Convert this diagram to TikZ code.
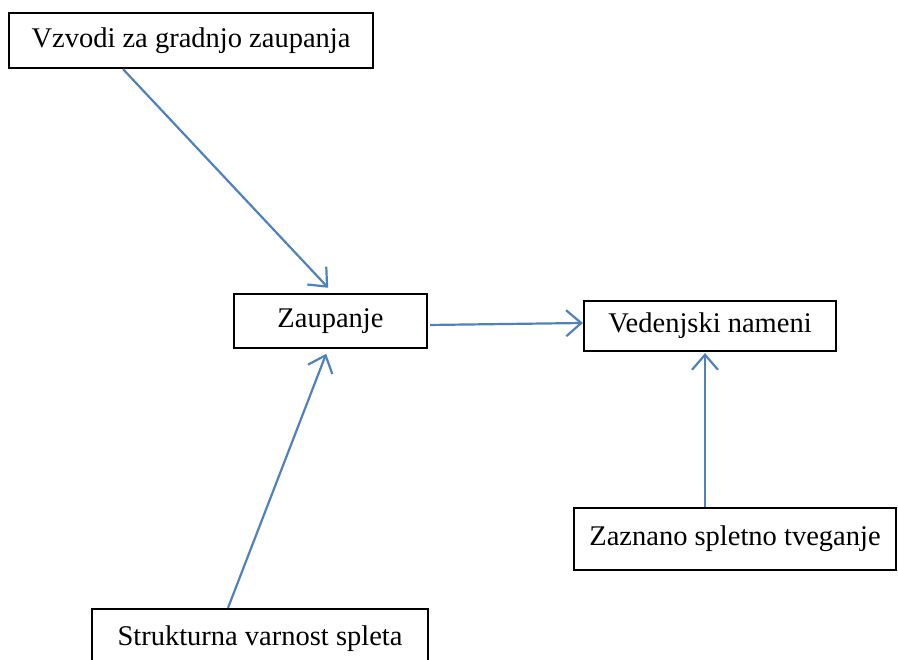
\documentclass[tikz,border=0pt]{standalone}
\usepackage{fontspec}
\setmainfont{Liberation Serif}
\usetikzlibrary{arrows.meta}

\definecolor{lineBlue}{RGB}{79,129,189}

\begin{document}
\begin{tikzpicture}[
    x=1pt, y=-1pt, every node/.style={font=\fontsize{28.5}{33}\selectfont},
    bNode/.style={rectangle, draw=black, line width=2.2pt, fill=white, inner sep=0pt},
    link/.style={draw=lineBlue, line width=2.2pt, -{Straight Barb[length=15pt, width=26pt, line width=2.2pt]}}
]
    \useasboundingbox (0,0) rectangle (898,660);

    \node[bNode, minimum width=364pt, minimum height=55pt] (vzvodi) at (191,40.5) {Vzvodi za gradnjo zaupanja};
    \node[bNode, minimum width=193pt, minimum height=54pt] (zaupanje) at (330.5,321) {Zaupanje};
    \node[bNode, minimum width=252pt, minimum height=50pt] (nameni) at (710,326) {Vedenjski nameni};
    \node[bNode, minimum width=322pt, minimum height=62pt] (tveganje) at (735,539) {Zaznano spletno tveganje};
    \node[bNode, minimum width=336pt, minimum height=60pt] (varnost) at (260,639) {Strukturna varnost spleta};

    \draw[link, shorten >=7pt] ([xshift=-68pt]vzvodi.south) -- ([xshift=2.5pt]zaupanje.north);
    \draw[link, shorten >=5pt] ([xshift=-32pt]varnost.north) -- ([xshift=-2.5pt]zaupanje.south);
    \draw[link, shorten <=2pt] ([yshift=-4pt]zaupanje.east) -- ([yshift=3pt]nameni.west);
    \draw[link, shorten >=1pt] ([xshift=-30pt]tveganje.north) -- ([xshift=-5pt]nameni.south);
\end{tikzpicture}
\end{document}
